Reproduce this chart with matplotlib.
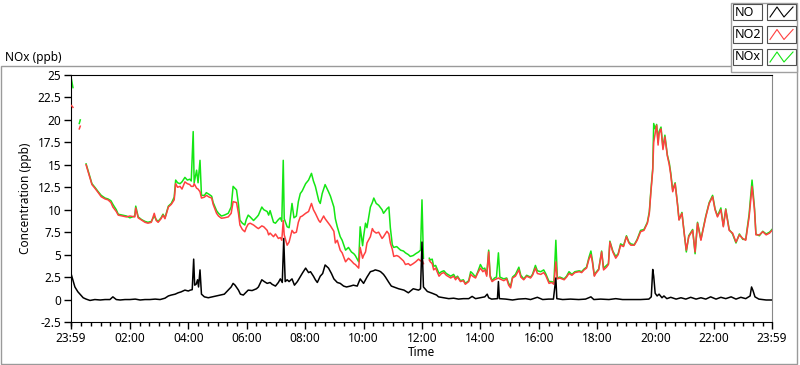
import numpy as np
import matplotlib
matplotlib.use("Agg")
import matplotlib.pyplot as plt
from matplotlib.patches import Rectangle
from matplotlib.lines import Line2D

# --- data (minutes since 23:59 of the previous day) ---
t_nox = [1, 4, 8, 17, 19, 22,
         31, 38, 43, 49, 56, 62, 70, 76, 82, 86, 93, 97, 105, 114, 121,
         131, 133, 138, 145, 152, 158, 165, 171, 175, 179, 185, 189, 193, 200,
         206, 212, 215, 219, 224, 228, 234, 239, 244, 247, 251, 253, 258, 261,
         265, 268, 274, 278, 284, 289, 292, 299, 303, 309, 315, 323, 329, 333,
         340, 344, 347, 352, 357, 360, 364, 368, 375, 382, 385, 392, 396, 403,
         406, 409, 416, 420, 426, 430, 433, 436, 438, 444, 448, 454, 458, 463,
         467, 471, 475, 482, 488, 494, 498, 502, 509, 512, 516, 519, 522, 529,
         533, 540, 543, 547, 553, 557, 564, 570, 576, 581, 584, 591, 594, 599,
         601, 605, 608, 615, 619, 622, 627, 632, 639, 642, 649, 653, 656, 660,
         663, 669, 673, 677, 683, 687, 693, 697, 703, 708, 714, 718, 721, 724,
         726, 736, 738, 742, 745, 749, 756, 761, 766, 771, 780, 786, 790, 794,
         800, 806, 810, 817, 821, 825, 831, 835, 841, 846, 850, 854, 858, 861,
         865, 870, 874, 878, 881, 889, 895, 899, 903, 907, 913, 920, 924, 930,
         936, 944, 948, 954, 958, 965, 971, 975, 982, 987, 992, 996, 999, 1004,
         1013, 1018, 1023, 1029, 1035, 1044, 1049, 1054, 1059, 1064, 1068, 1071,
         1075, 1078, 1084, 1090, 1094, 1100, 1104, 1107, 1113, 1119, 1124, 1129,
         1135, 1141, 1146, 1150, 1157, 1163, 1170, 1177, 1184, 1188, 1191, 1195,
         1197, 1200, 1203, 1206, 1208, 1212, 1216, 1220, 1225, 1229, 1232, 1236,
         1241, 1246, 1249, 1255, 1260, 1264, 1269, 1277, 1282, 1287, 1294, 1297,
         1304, 1311, 1318, 1323, 1328, 1335, 1340, 1345, 1352, 1359, 1366, 1373,
         1380, 1386, 1393, 1399, 1404, 1407, 1414, 1421, 1428, 1435, 1440]

no2 = [21.6, 21.4, np.nan, 19.0, 19.3, np.nan,
       15.0, 13.7, 12.8, 12.4, 11.9, 11.45, 11.2, 11.1, 10.8, 10.3, 9.8, 9.4, 9.3, 9.2, 9.3,
       9.2, 10.2, 9.1, 8.85, 8.6, 8.5, 8.6, 9.6, 8.8, 8.6, 9.0, 9.4, 9.0, 10.3,
       10.6, 11.1, 12.9, 12.5, 12.6, 12.3, 13.1, 12.9, 12.8, 12.6, 12.6, 12.9, 12.4, 12.3,
       12.0, 11.3, 11.4, 11.6, 11.4, 11.3, 10.6, 9.6, 9.3, 9.05, 9.1, 9.2, 9.6, 10.9,
       10.8, 9.6, 8.3, 7.8, 7.55, 8.0, 8.4, 8.5, 8.3, 8.0, 7.9, 8.2, 8.1, 7.7,
       7.2, 7.4, 7.0, 7.3, 6.8, 6.9, 6.6, 8.8, 7.2, 6.05, 6.4, 7.7, 7.4, 7.5,
       8.6, 9.2, 9.3, 9.6, 9.8, 10.7, 10.0, 9.6, 8.8, 8.6, 9.0, 9.3, 9.0, 8.5,
       8.2, 7.6, 6.3, 6.6, 5.5, 5.2, 4.2, 4.6, 4.3, 4.0, 3.9, 3.5, 5.8, 4.6,
       4.9, 5.3, 6.3, 7.0, 7.9, 7.6, 7.4, 7.5, 6.8, 7.0, 7.6, 7.3, 6.3, 5.6,
       4.8, 4.9, 4.8, 4.6, 4.3, 3.9, 4.0, 3.8, 4.0, 4.2, 4.5, 4.3, 4.4, 4.0,
       np.nan, 4.4, 4.2, 4.0, 3.3, 3.5, 2.6, 2.9, 3.0, 2.7, 2.4, 2.6, 2.2, 2.5,
       2.0, 2.1, 1.7, 2.0, 2.8, 2.6, 2.4, 2.9, 3.5, 3.1, 3.3, 2.6, 5.3, 2.5,
       2.0, 2.2, 2.3, 2.4, 2.3, 2.1, 2.3, 1.6, 1.3, 2.4, 2.6, 3.3, 2.5, 2.2,
       2.6, 2.4, 2.7, 3.5, 2.9, 2.8, 3.0, 2.7, 1.8, 1.9, 1.7, 4.2, 2.3, 2.4,
       2.2, 2.5, 2.9, 2.7, 3.0, 3.1, 3.0, 3.3, 3.5, 4.5, 5.0, 4.2,
       2.6, 2.9, 3.3, 5.3, 3.3, 3.6, 3.9, 6.4, 5.3, 4.6, 5.0, 6.05,
       5.9, 7.0, 6.3, 6.05, 6.05, 6.6, 7.55, 7.7, 8.5, 9.6, 11.8, 14.4,
       17.5, 18.5, 19.4, 17.2, 18.5, 19.0, 16.7, 18.1, 16.0, 15.0, 13.9, 12.0,
       12.9, 10.5, 8.85, 9.6, 7.2, 5.5, 7.0, 7.7, 5.3, 8.5, 6.6, 7.4,
       9.2, 10.7, 11.45, 10.0, 9.2, 10.0, 8.1, 10.0, 7.7, 7.4, 6.4, 7.2,
       6.8, 6.6, 9.2, 12.6, 10.0, 7.2, 7.2, 7.55, 7.2, 7.4, 7.7]

nox = [24.5, 23.6, np.nan, 19.6, 20.0, np.nan,
       15.1, 13.8, 12.9, 12.5, 12.0, 11.6, 11.3, 11.2, 11.0, 10.6, 10.0, 9.5, 9.4, 9.3, 9.1,
       9.3, 10.4, 9.2, 8.9, 8.7, 8.6, 8.7, 9.3, 8.9, 8.7, 9.1, 9.5, 9.1, 10.4,
       10.7, 11.4, 13.3, 13.0, 12.9, 13.1, 13.6, 13.3, 13.4, 13.2, 18.7, 13.0, 14.4, 13.0,
       15.5, 11.6, 11.6, 11.9, 11.7, 11.5, 10.8, 9.9, 9.6, 9.3, 9.4, 9.6, 10.3, 12.6,
       12.2, 10.6, 8.85, 8.5, 8.3, 8.9, 9.4, 9.2, 8.8, 9.2, 9.4, 10.3, 10.0, 9.8,
       9.4, 9.9, 8.6, 8.5, 8.9, 9.1, 8.7, 15.5, 9.0, 8.1, 8.0, 10.7, 9.1, 9.3,
       10.9, 11.8, 12.1, 12.9, 13.3, 14.05, 13.2, 12.6, 11.0, 10.7, 11.8, 12.3, 12.8, 12.0,
       11.5, 10.3, 9.0, 8.1, 7.0, 6.6, 5.5, 5.8, 5.3, 5.1, 4.9, 4.2, 8.1, 6.0,
       7.0, 8.5, 8.0, 10.3, 10.8, 11.3, 10.7, 10.5, 10.0, 9.6, 10.1, 10.3, 8.0, 6.1,
       5.8, 5.9, 5.7, 5.5, 5.4, 5.2, 5.0, 4.8, 4.9, 5.1, 5.3, 5.5, 11.1, 4.6,
       np.nan, 4.6, 4.4, 4.5, 3.7, 3.8, 2.9, 3.1, 3.2, 2.9, 2.6, 2.8, 2.4, 2.6,
       2.1, 2.2, 1.8, 2.1, 3.1, 2.9, 2.5, 3.0, 3.9, 3.4, 3.5, 2.8, 5.5, 2.7,
       2.1, 2.4, 2.5, 5.2, 2.5, 2.3, 2.4, 1.8, 1.5, 2.5, 2.8, 3.6, 2.7, 2.3,
       2.7, 2.5, 2.8, 3.8, 3.2, 3.1, 3.3, 2.9, 2.0, 2.0, 1.9, 6.6, 2.4, 2.5,
       2.3, 2.6, 3.1, 2.8, 3.1, 3.2, 3.1, 3.4, 3.6, 4.7, 5.4, 4.4,
       2.7, 3.0, 3.4, 5.4, 3.5, 3.8, 4.0, 6.5, 5.4, 4.8, 5.1, 6.2,
       6.0, 7.1, 6.4, 6.2, 6.1, 6.7, 7.7, 7.8, 8.6, 9.8, 12.0, 14.6,
       19.6, 19.0, 19.5, 17.5, 18.7, 19.2, 16.9, 18.3, 16.1, 15.2, 14.1, 12.2,
       13.0, 10.6, 8.9, 9.7, 7.3, 5.3, 7.1, 7.8, 5.1, 8.6, 6.7, 7.5,
       9.3, 10.8, 11.6, 10.1, 9.3, 10.2, 8.2, 10.1, 7.8, 7.3, 6.3, 7.3,
       6.7, 6.7, 9.5, 13.3, 10.2, 7.3, 7.1, 7.6, 7.3, 7.5, 7.8]

t_no = [0, 8, 14, 25, 31, 39, 49, 60, 70, 80, 86, 93, 101, 111, 121, 132, 142,
        152, 162, 173, 183, 193, 200, 206, 214, 220, 226, 234, 241, 245, 249,
        252, 254, 257, 260, 262, 265, 268, 274, 282, 290, 298, 306, 315, 323,
        329, 333, 337, 344, 348, 354, 364, 372, 381, 385, 392, 397, 403, 409,
        413, 420, 426, 430, 434, 437, 440, 444, 448, 454, 459, 465, 471, 476,
        482, 488, 492, 498, 502, 506, 512, 517, 522, 529, 535, 540, 547, 553,
        560, 566, 574, 580, 588, 594, 601, 608, 615, 621, 625, 632, 636, 642,
        646, 653, 658, 663, 673, 684, 693, 703, 714, 718, 721, 724, 732, 742,
        751, 755, 765, 776, 786, 796, 806, 817, 824, 831, 841, 850, 855, 858,
        864, 876, 878, 880, 893, 907, 919, 934, 944, 958, 969, 981, 991, 996,
        998, 1010, 1026, 1043, 1057, 1068, 1074, 1088, 1105, 1119, 1133, 1150,
        1170, 1187, 1192, 1195, 1197, 1200, 1204, 1208, 1214, 1218, 1224, 1232,
        1243, 1253, 1263, 1273, 1284, 1294, 1304, 1314, 1325, 1335, 1345, 1356,
        1366, 1376, 1386, 1395, 1398, 1401, 1405, 1413, 1428, 1440]

no = [2.9, 1.4, 0.87, 0.2, 0.05, -0.1, 0.0, -0.05, 0.0, 0.0, 0.3, 0.0, -0.05, 0.0, 0.0, 0.05, -0.05,
      0.0, 0.0, 0.05, 0.0, 0.15, 0.4, 0.5, 0.6, 0.75, 0.85, 1.05, 0.95, 1.05, 1.1,
      4.5, 1.6, 1.7, 2.2, 1.4, 3.3, 0.6, 0.3, 0.2, 0.3, 0.4, 0.5, 0.6, 1.05,
      1.4, 1.8, 1.6, 1.05, 0.6, 0.5, 1.05, 1.0, 1.2, 1.4, 2.2, 2.0, 1.8, 1.9,
      1.7, 1.5, 1.9, 2.3, 1.9, 6.8, 2.0, 2.2, 2.0, 2.3, 1.6, 2.0, 2.55, 3.0,
      3.5, 3.0, 3.1, 2.6, 2.2, 1.9, 2.6, 2.9, 3.85, 3.5, 2.9, 2.3, 1.9, 1.8,
      1.5, 1.4, 1.5, 1.6, 1.5, 2.3, 1.8, 2.5, 3.1, 3.2, 3.3, 3.2, 3.1, 2.8,
      2.5, 1.9, 1.5, 1.4, 1.2, 1.05, 0.75, 1.2, 1.05, 1.2, 6.4, 1.4, 0.9, 0.7,
      0.5, 0.3, 0.2, 0.1, 0.15, 0.05, 0.1, 0.1, 0.35, 0.1, 0.2, 0.3, 0.6, 0.2,
      0.05, 0.1, 2.0, 0.1, 0.05, -0.05, 0.05, 0.1, 0.0, 0.25, 0.0, 0.05, 0.05, 2.4,
      0.1, 0.0, 0.05, 0.0, 0.05, 0.3, 0.0, 0.05, 0.0, 0.1, 0.0, 0.0,
      0.0, 0.05, 0.3, 3.35, 2.6, 0.7, 0.4, 0.6, 0.2, 0.4, 0.1, 0.25,
      0.05, 0.2, 0.05, 0.25, 0.05, 0.2, 0.05, 0.3, 0.05, 0.25, 0.1, 0.3,
      0.05, 0.25, 0.1, 0.4, 1.4, 1.0, 0.3, 0.05, -0.05, -0.05]

xtick_pos = [0, 121, 241, 361, 481, 601, 721, 841, 961, 1081, 1201, 1321, 1440]
xtick_labels = ["23:59", "02:00", "04:00", "06:00", "08:00", "10:00", "12:00",
                "14:00", "16:00", "18:00", "20:00", "22:00", "23:59"]
yticks = [-2.5, 0, 2.5, 5, 7.5, 10, 12.5, 15, 17.5, 20, 22.5, 25]
series_names = ["NO", "NO2", "NOx"]
series_colors = ["#000000", "#ff4040", "#14e614"]

plt.rcParams['font.family'] = ['Noto Sans', 'DejaVu Sans']
FS = 8.5
W, H = 800, 365
fig = plt.figure(figsize=(W / 100, H / 100), dpi=100)

def fx(px):
    return px / W

def fy(py):
    return 1 - py / H

# outer frame and title
fig.patches.append(Rectangle((fx(1), fy(364)), fx(796), (364 - 66) / H, transform=fig.transFigure,
                             fill=False, edgecolor="#9a9a9a", lw=1))
fig.patches.append(Rectangle((fx(731), fy(72)), fx(66), 69 / H, transform=fig.transFigure,
                             facecolor="white", edgecolor="#a0a0a0", lw=1, zorder=3))
fig.text(fx(5), fy(57), "NOx (ppb)", fontsize=FS, va="center", ha="left")

ax = fig.add_axes([fx(71), fy(322), fx(701), 247 / H])
ax.plot(t_nox, nox, color=series_colors[2], lw=1.1, zorder=2)
ax.plot(t_nox, no2, color=series_colors[1], lw=1.1, zorder=3)
ax.plot(t_no, no, color=series_colors[0], lw=1.1, zorder=4)

ax.set_xlim(0, 1440)
ax.set_ylim(-2.5, 25)
ax.set_xticks(xtick_pos)
ax.set_xticklabels(xtick_labels)
minor = [m for m in range(1, 1440, 20) if m not in xtick_pos]
ax.set_xticks(minor, minor=True)
ax.set_yticks(yticks)
ax.set_yticklabels(["%g" % v for v in yticks])
ax.tick_params(axis="both", labelsize=FS, length=5, width=1, pad=2, colors="black")
ax.tick_params(axis="x", which="minor", length=3, width=1)
for s in ["left", "bottom", "top"]:
    ax.spines[s].set_color("black")
ax.spines["right"].set_color("#888888")
ax.set_xlabel("Time", fontsize=FS, labelpad=1)
ax.set_ylabel("Concentration (ppb)", fontsize=FS, labelpad=4)

# legend block
rows_y = [12, 34.5, 57]
for name, col, ry in zip(series_names, series_colors, rows_y):
    fig.patches.append(Rectangle((fx(733), fy(ry + 8)), fx(29), 16 / H, transform=fig.transFigure,
                                 facecolor="white", edgecolor="#505050", lw=0.8, zorder=4))
    fig.text(fx(735), fy(ry), name, fontsize=9, va="center", ha="left", zorder=5)
    fig.patches.append(Rectangle((fx(767), fy(ry + 8)), fx(29), 16 / H, transform=fig.transFigure,
                                 facecolor="white", edgecolor="#505050", lw=0.8, zorder=4))
    zx = [fx(770), fx(777), fx(784), fx(793)]
    zy = [fy(ry + 5), fy(ry - 5), fy(ry + 5), fy(ry - 5)]
    fig.lines.append(Line2D(zx, zy, transform=fig.transFigure, color=col, lw=0.8, zorder=5))

fig.savefig("out.png", dpi=100)
